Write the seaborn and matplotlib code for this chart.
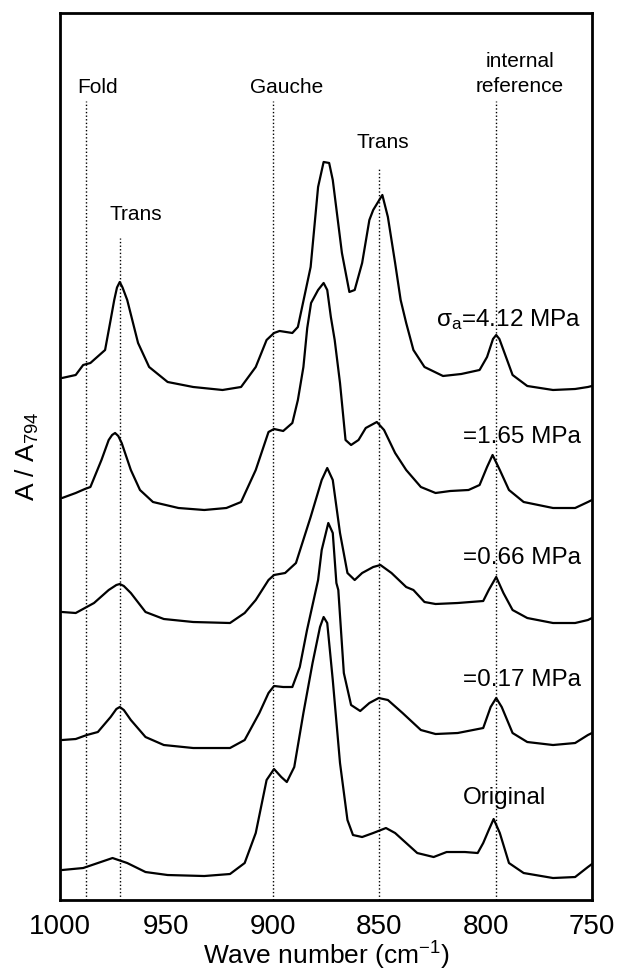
"""
Raman spectra under different stress - stacked plot
"""
import numpy as np
import pandas as pd
import matplotlib
matplotlib.use('Agg')
import matplotlib.pyplot as plt
import seaborn as sns

# --- data (wave number in cm-1, A/A794 relative to each baseline) ---
wn_412 = [999, 992.6, 989.1, 985.7, 978.8, 976.2, 974.5, 973.2, 971.9, 970.6, 968.4, 963.3,
          958.1, 949.4, 937.4, 923.6, 914.9, 908.0, 902.9, 899.4, 896.8, 890.8, 888.2, 882.2,
          878.7, 876.1, 873.5, 871.8, 867.5, 864.0, 861.5, 858.0, 854.6, 852.8, 848.5, 845.9,
          842.5, 839.9, 837.3, 833.9, 828.7, 820.0, 811.4, 802.8, 799.3, 796.5, 795.0, 793.5,
          791.6, 787.3, 780.4, 768.3, 757.9, 751.9, 750]
a_412 = [0.24, 0.30, 0.50, 0.54, 0.80, 1.40, 1.80, 2.05, 2.16, 2.05, 1.80, 0.94,
         0.46, 0.16, 0.06, 0.00, 0.06, 0.46, 1.00, 1.14, 1.18, 1.14, 1.26, 2.46,
         4.06, 4.56, 4.54, 4.20, 2.74, 1.96, 2.00, 2.54, 3.40, 3.60, 3.90, 3.46,
         2.54, 1.80, 1.34, 0.80, 0.46, 0.28, 0.32, 0.40, 0.66, 1.02, 1.10, 1.02,
         0.80, 0.30, 0.08, 0.00, 0.02, 0.06, 0.08]

wn_165 = [999, 992.6, 988.3, 985.7, 980.5, 977.1, 975.5, 974.1, 972.6, 971.0, 966.7, 962.4,
          956.3, 944.3, 932.2, 921.8, 914.9, 908.0, 902.0, 899.4, 895.1, 890.8, 888.2, 885.6,
          883.8, 882.0, 878.7, 876.1, 874.4, 872.7, 870.9, 868.4, 865.8, 863.2, 859.7, 856.3,
          851.1, 847.7, 842.5, 837.3, 830.4, 823.5, 816.6, 808.0, 802.8, 799.3, 796.7, 793.3,
          789.0, 782.1, 768.3, 757.9, 751.9, 750]
a_165 = [0.20, 0.30, 0.38, 0.42, 0.96, 1.36, 1.46, 1.50, 1.44, 1.30, 0.76, 0.36,
         0.12, 0.00, -0.04, 0.00, 0.12, 0.76, 1.52, 1.58, 1.54, 1.70, 2.16, 2.82,
         3.60, 4.10, 4.36, 4.50, 4.36, 3.82, 3.36, 2.50, 1.36, 1.26, 1.36, 1.60,
         1.72, 1.56, 1.10, 0.76, 0.42, 0.30, 0.34, 0.36, 0.46, 0.82, 1.06, 0.76,
         0.36, 0.12, 0.00, 0.00, 0.12, 0.16]

wn_066 = [999, 992.6, 988.3, 984.0, 977.1, 973.5, 971.9, 970.0, 966.7, 959.8, 951.2, 937.4,
          920.1, 913.2, 908.0, 902.0, 899.4, 894.2, 889.1, 882.2, 877.0, 874.4, 871.8, 868.4,
          864.9, 861.5, 858.0, 852.8, 849.4, 844.2, 837.3, 833.9, 828.7, 823.5, 813.1, 801.1,
          798.5, 795.0, 791.6, 787.3, 780.4, 768.3, 757.9, 751.9, 750]
a_066 = [0.22, 0.20, 0.30, 0.40, 0.66, 0.76, 0.78, 0.74, 0.60, 0.22, 0.08, 0.02,
         0.00, 0.20, 0.46, 0.86, 0.96, 1.00, 1.20, 2.12, 2.86, 3.10, 2.86, 1.80,
         1.00, 0.86, 1.00, 1.12, 1.16, 1.00, 0.72, 0.66, 0.42, 0.38, 0.40, 0.44,
         0.66, 0.92, 0.60, 0.26, 0.10, 0.00, 0.00, 0.06, 0.10]

wn_017 = [999, 992.6, 987.4, 982.2, 976.2, 973.5, 971.9, 970.0, 966.7, 959.8, 951.2, 937.4,
          920.1, 913.2, 906.3, 902.0, 899.4, 895.1, 890.8, 887.3, 883.9, 878.7, 877.0, 873.9,
          871.8, 870.1, 869.2, 866.6, 863.2, 858.9, 854.6, 850.2, 845.9, 839.0, 830.4, 823.5,
          813.1, 801.1, 797.6, 795.0, 792.4, 787.3, 780.4, 768.3, 757.9, 751.9, 750]
a_017 = [0.16, 0.18, 0.26, 0.32, 0.62, 0.78, 0.82, 0.76, 0.56, 0.22, 0.06, 0.00,
         0.00, 0.16, 0.70, 1.10, 1.24, 1.22, 1.22, 1.62, 2.36, 3.36, 3.96, 4.50,
         4.30, 3.30, 3.16, 1.50, 0.86, 0.74, 0.90, 1.00, 0.96, 0.70, 0.36, 0.28,
         0.30, 0.40, 0.82, 1.00, 0.82, 0.30, 0.12, 0.06, 0.10, 0.26, 0.30]

wn_orig = [999, 989.1, 982.2, 975.3, 968.4, 959.8, 949.4, 932.2, 920.1, 913.2, 908.0, 902.9,
           899.4, 896.0, 893.4, 889.9, 885.6, 881.3, 877.8, 876.1, 874.4, 871.8, 868.4, 864.9,
           862.3, 858.0, 852.8, 846.8, 842.5, 837.3, 832.1, 824.4, 818.3, 809.7, 803.7, 801.1,
           798.5, 796.2, 793.3, 789.0, 782.1, 768.3, 757.9, 751.9, 750]
a_orig = [0.12, 0.16, 0.26, 0.36, 0.26, 0.08, 0.02, 0.00, 0.04, 0.26, 0.86, 1.92,
          2.14, 1.98, 1.88, 2.18, 3.26, 4.26, 4.98, 5.18, 5.06, 3.92, 2.26, 1.12,
          0.82, 0.78, 0.86, 0.96, 0.86, 0.66, 0.46, 0.38, 0.48, 0.48, 0.46, 0.66,
          0.92, 1.14, 0.86, 0.26, 0.06, -0.04, -0.02, 0.18, 0.24]

labels = ['σ$_{\\rm a}$=4.12 MPa', '=1.65 MPa', '=0.66 MPa', '=0.17 MPa', 'Original']
offsets = [10.2, 7.84, 5.54, 3.04, 0.48]

# band positions (cm-1) and names
band_pos = [988, 972, 900, 850, 795]
band_names = ['Fold', 'Trans', 'Gauche', 'Trans', 'internal\nreference']


def build_frame():
    rows = []
    series = [(wn_412, a_412), (wn_165, a_165), (wn_066, a_066), (wn_017, a_017), (wn_orig, a_orig)]
    for lab, off, (wn, a) in zip(labels, offsets, series):
        for w, v in zip(wn, a):
            rows.append({'wn': w, 'A': v + off, 'sample': lab})
    return pd.DataFrame(rows)


def main():
    sns.set_style("white")
    plt.rcParams['font.family'] = ['Liberation Sans', 'DejaVu Sans']
    plt.rcParams['mathtext.fontset'] = 'custom'
    plt.rcParams['mathtext.rm'] = 'Liberation Sans'
    plt.rcParams['mathtext.it'] = 'Liberation Sans:italic'
    plt.rcParams['text.color'] = 'black'
    plt.rcParams['axes.labelcolor'] = 'black'
    plt.rcParams['xtick.color'] = 'black'

    df = build_frame()

    fig = plt.figure(figsize=(6.17, 9.75), dpi=100)
    ax = fig.add_axes([0.0972, 0.0769, 0.8622, 0.9098])

    for lab in labels:
        sub = df[df['sample'] == lab]
        sns.lineplot(data=sub, x='wn', y='A', ax=ax, color='black', lw=1.6,
                     sort=False, estimator=None, legend=False)

    ax.set_xlim(1000, 750)
    ax.set_ylim(0, 17.74)

    # dotted band markers
    tops = [15.97, 13.24, 15.97, 14.66, 15.97]
    for x, top in zip(band_pos, tops):
        ax.plot([x, x], [0, top], color='black', lw=1.0, ls=(0, (1, 1.6)))

    # band labels (baseline aligned)
    fs = 15
    ax.text(982.4, 16.14, 'Fold', ha='center', va='baseline', fontsize=fs)
    ax.text(964.5, 13.6, 'Trans', ha='center', va='baseline', fontsize=fs)
    ax.text(893.4, 16.14, 'Gauche', ha='center', va='baseline', fontsize=fs)
    ax.text(848.5, 15.04, 'Trans', ha='center', va='baseline', fontsize=fs)
    ax.text(783.8, 16.66, 'internal', ha='center', va='baseline', fontsize=fs)
    ax.text(783.8, 16.16, 'reference', ha='center', va='baseline', fontsize=fs)

    # stress labels
    lab_y = [11.6, 9.26, 6.84, 4.4, 2.04]
    for i, lab in enumerate(labels):
        if lab == 'Original':
            ax.text(791, lab_y[i], lab, ha='center', va='center', fontsize=17.5)
        else:
            ax.text(755.0, lab_y[i], lab, ha='right', va='center', fontsize=17.5)

    ax.set_yticks([])
    ax.set_xticks([1000, 950, 900, 850, 800, 750])
    ax.tick_params(axis='x', direction='in', length=8, width=2, labelsize=20, pad=10)
    for s in ax.spines.values():
        s.set_linewidth(2)
        s.set_color('black')

    ax.set_xlabel('Wave number (cm$^{-1}$)', fontsize=19, labelpad=0)
    ax.set_ylabel(r'A / A$_{\rm 794}$', fontsize=19, labelpad=14)

    plt.savefig('out.png', dpi=100)
    plt.close()


if __name__ == '__main__':
    main()
